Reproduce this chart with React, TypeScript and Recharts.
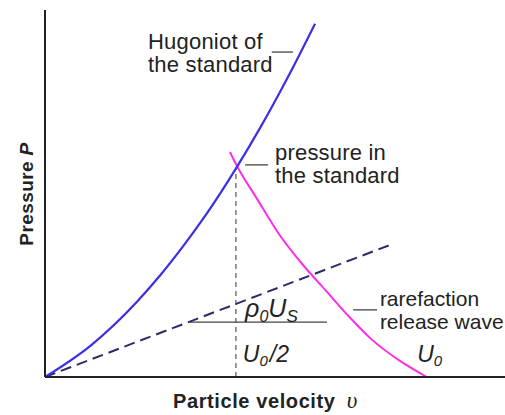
import { ComposedChart, Line, XAxis, YAxis, ReferenceLine, ReferenceDot } from "recharts";

// readings in chart units (x: particle velocity, y: pressure)
const hugoniotV = [0, 1, 2, 2.5, 3, 3.5, 4.17, 4.67, 5.33, 5.87];
const hugoniotP = [0, 0.86, 2.04, 2.75, 3.54, 4.4, 5.69, 6.74, 8.25, 9.58];
const releaseV = [4.02, 4.2, 4.6, 5.1, 5.6, 6.1, 6.6, 7.1, 7.7, 8.3];
const releaseP = [6.1, 5.66, 4.85, 3.85, 3.05, 2.35, 1.65, 1.02, 0.45, 0];
const rayleighV = [0, 7.5];
const rayleighP = [0, 3.58];
const standardV = 4.15;
const standardP = 5.69;
const momentumP = 1.49;
const momentumV = [3.15, 6.13];

const toRows = (v: number[], p: number[]) => v.map((x, i) => ({ v: x, p: p[i] }));
const hugoniot = toRows(hugoniotV, hugoniotP);
const release = toRows(releaseV, releaseP);
const rayleigh = toRows(rayleighV, rayleighP);

const FONT = "'Liberation Sans', Arial, sans-serif";
const GREY = "#444";

const note = (lines: string[], size = 22, spacing = 0.2) => (props: any) => {
  const { x, y } = props.viewBox;
  return (
    <text x={x} y={y} fontFamily={FONT} fontSize={size} letterSpacing={spacing} fill="#222">
      {lines.map((l, i) => (
        <tspan key={i} x={x} dy={i ? 23 : 0}>
          {l}
        </tspan>
      ))}
    </text>
  );
};

const rhoUs = (props: any) => {
  const { x, y } = props.viewBox;
  return (
    <text x={x} y={y} fontFamily={FONT} fontSize={25} fontStyle="italic" fill="#222">
      <tspan>ρ</tspan>
      <tspan fontSize={16} dy={5}>0</tspan>
      <tspan dy={-5}>U</tspan>
      <tspan fontSize={17} dy={5}>S</tspan>
    </text>
  );
};

const halfU = (props: any) => {
  const { x, y } = props.viewBox;
  return (
    <text x={x} y={y} fontFamily={FONT} fontSize={23} fontStyle="italic" fill="#222">
      <tspan>U</tspan>
      <tspan fontSize={15} dy={4}>0</tspan>
      <tspan dy={-4} dx={2}>/2</tspan>
    </text>
  );
};

const fullU = (props: any) => {
  const { x, y } = props.viewBox;
  return (
    <text x={x} y={y} fontFamily={FONT} fontSize={23} fontStyle="italic" fill="#222">
      <tspan>U</tspan>
      <tspan fontSize={15} dy={4}>0</tspan>
    </text>
  );
};

const xLabel = (props: any) => {
  const { x, y } = props.viewBox;
  return (
    <text x={x + 128} y={y + 31} fontFamily={FONT} fontSize={20} letterSpacing={0.6} fontWeight="bold" fill="#222">
      Particle velocity{" "}
      <tspan fontFamily="'Liberation Serif', serif" fontStyle="italic" fontWeight="normal" fontSize={23} dx={5}>
        υ
      </tspan>
    </text>
  );
};

const yLabel = () => (
  <text
    x={33}
    y={194}
    transform="rotate(-90 33 194)"
    textAnchor="middle"
    fontFamily={FONT}
    fontSize={19}
    letterSpacing={0.4}
    fontWeight="bold"
    fill="#222"
  >
    Pressure <tspan fontStyle="italic">P</tspan>
  </text>
);

const dot = { r: 0, fill: "none", stroke: "none" };

export default function App() {
  return (
    <div style={{ position: "absolute", left: 0, top: 0, background: "#fff" }}>
      <ComposedChart width={505} height={415} margin={{ top: 10, right: 0, bottom: 0, left: 0 }}>
        <XAxis
          type="number"
          dataKey="v"
          domain={[0, 10]}
          tick={false}
          tickLine={false}
          height={38}
          axisLine={{ stroke: "#222", strokeWidth: 2 }}
          label={{ content: xLabel }}
        />
        <YAxis
          type="number"
          domain={[0, 9.95]}
          tick={false}
          tickLine={false}
          width={45}
          axisLine={{ stroke: "#222", strokeWidth: 2 }}
          label={{ content: yLabel }}
        />
        <ReferenceLine
          segment={[{ x: standardV, y: 0 }, { x: standardV, y: standardP }]}
          stroke="#777"
          strokeWidth={1.5}
          strokeDasharray="5 4"
        />
        <ReferenceLine
          segment={[{ x: momentumV[0], y: momentumP }, { x: momentumV[1], y: momentumP }]}
          stroke={GREY}
          strokeWidth={1.3}
        />
        <ReferenceLine segment={[{ x: 4.93, y: 8.81 }, { x: 5.39, y: 8.81 }]} stroke={GREY} strokeWidth={1.3} />
        <ReferenceLine segment={[{ x: 4.35, y: 5.75 }, { x: 4.85, y: 5.75 }]} stroke={GREY} strokeWidth={1.3} />
        <ReferenceLine segment={[{ x: 6.7, y: 1.82 }, { x: 7.22, y: 1.82 }]} stroke={GREY} strokeWidth={1.3} />
        <Line
          data={rayleigh}
          dataKey="p"
          stroke="#2b2b66"
          strokeWidth={2}
          strokeDasharray="11 6"
          dot={false}
          isAnimationActive={false}
        />
        <Line
          data={release}
          dataKey="p"
          type="monotone"
          stroke="#ff2ee6"
          strokeWidth={2}
          dot={false}
          isAnimationActive={false}
        />
        <Line
          data={hugoniot}
          dataKey="p"
          type="monotone"
          stroke="#3a30e6"
          strokeWidth={2.2}
          dot={false}
          isAnimationActive={false}
        />
        <ReferenceDot x={2.24} y={8.89} {...dot} label={{ content: note(["Hugoniot of", "the standard"]) }} />
        <ReferenceDot x={5.0} y={5.88} {...dot} label={{ content: note(["pressure in", "the standard"]) }} />
        <ReferenceDot x={7.28} y={1.92} {...dot} label={{ content: note(["rarefaction", "release wave"], 21, 0) }} />
        <ReferenceDot x={4.35} y={1.63} {...dot} label={{ content: rhoUs }} />
        <ReferenceDot x={4.3} y={0.41} {...dot} label={{ content: halfU }} />
        <ReferenceDot x={8.09} y={0.41} {...dot} label={{ content: fullU }} />
      </ComposedChart>
    </div>
  );
}
